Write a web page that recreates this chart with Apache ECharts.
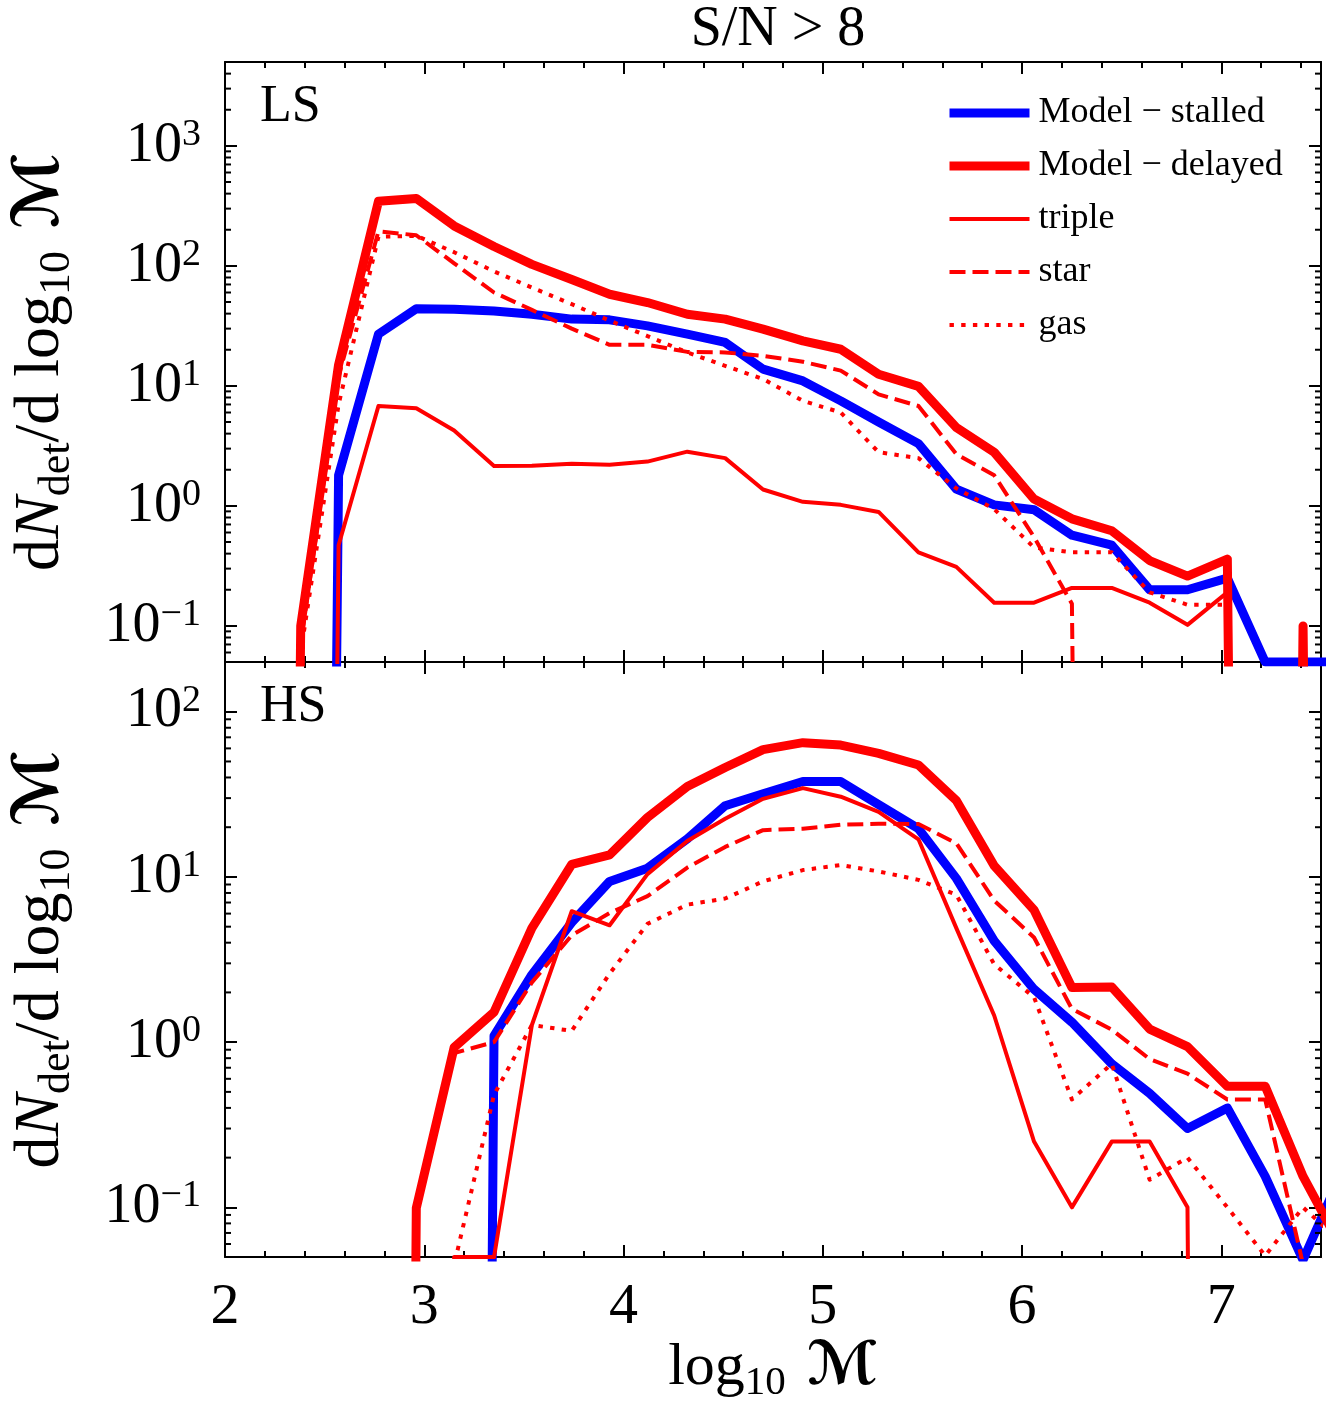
<!DOCTYPE html>
<html>
<head>
<meta charset="utf-8">
<script src="https://cdn.jsdelivr.net/npm/echarts@6/dist/echarts.min.js"></script>
<style>
  html, body { margin: 0; padding: 0; background: #fff; }
  #main { width: 1336px; height: 1405px; }
</style>
</head>
<body>
<div id="main"></div>
<script>
// bin centres of log10 M, shared by both panels
var logM = [2.19, 2.38, 2.57, 2.77, 2.96, 3.15, 3.35, 3.54, 3.74, 3.93, 4.12, 4.32, 4.51, 4.70, 4.90,
            5.09, 5.28, 5.48, 5.67, 5.86, 6.06, 6.25, 6.45, 6.64, 6.83, 7.03, 7.22, 7.41, 7.61];

// LS panel (dN_det / dlog10 M), 0 = empty bin
var stalledLS = [0, 0, 1.8, 27, 44, 43.5, 42, 39.5, 36, 35.5, 31.6, 27, 23, 13.8, 11, 7.5, 5.0, 3.3, 1.38,
                 1.02, 0.93, 0.57, 0.47, 0.2, 0.2, 0.25, 0.05, 0.05, 0.05];
var delayedLS = [0, 0.1, 15, 345, 365, 215, 145, 103, 77, 58, 49.5, 39.5, 36, 29.7, 23.7, 20.2, 12.5, 9.9,
                 4.5, 2.8, 1.14, 0.78, 0.62, 0.35, 0.26, 0.36, 0, 0.1, 0];
var tripleLS  = [0, 0, 0.47, 6.8, 6.5, 4.25, 2.15, 2.16, 2.24, 2.2, 2.34, 2.83, 2.5, 1.37, 1.08, 1.02, 0.89,
                 0.41, 0.31, 0.156, 0.156, 0.207, 0.207, 0.156, 0.102, 0.19, 0, 0, 0];
var starLS    = [0, 0.07, 12, 194, 180, 105, 60, 43, 30, 22, 22, 19.2, 19, 17.8, 15.9, 13.4, 8.5, 6.8, 2.7,
                 1.8, 0.55, 0.153, 0, 0, 0, 0, 0, 0, 0];
var gasLS     = [0, 0.06, 7, 175, 178, 130, 90, 66, 48, 35, 26, 19, 14.7, 11.4, 7.5, 6.0, 2.8, 2.5, 1.4,
                 0.94, 0.45, 0.41, 0.41, 0.19, 0.15, 0.15, 0, 0, 0];

// HS panel
var stalledHS = [0, 0, 0, 0, 0, 0, 1.09, 2.56, 5.3, 9.4, 11.3, 17, 27, 31.9, 37.8, 37.8, 27.4, 19.6, 9.8,
                 4.1, 2.09, 1.32, 0.74, 0.49, 0.30, 0.40, 0.154, 0.048, 0.17];
var delayedHS = [0, 0, 0, 0, 0.099, 0.93, 1.52, 4.9, 11.9, 13.6, 22.9, 35.3, 46, 59, 65, 62.8, 56, 47.6, 29,
                 11.7, 6.3, 2.14, 2.16, 1.2, 0.94, 0.54, 0.54, 0.154, 0.055];
var tripleHS  = [0, 0, 0, 0, 0, 0.05, 0.05, 1.27, 6.2, 5.1, 10.4, 16.5, 22.5, 29.7, 34.5, 30.6, 24.8, 16.9,
                 4.9, 1.45, 0.25, 0.1, 0.25, 0.25, 0.1, 0, 0, 0, 0];
var starHS    = [0, 0, 0, 0, 0.1, 0.86, 1.0, 2.3, 4.43, 6.05, 7.65, 11.4, 15.2, 19.2, 19.6, 20.7, 21, 20.9,
                 16, 7.2, 4.3, 1.59, 1.19, 0.79, 0.645, 0.45, 0.45, 0.045, 0.05];
var gasHS     = [0, 0, 0, 0, 0, 0.045, 0.48, 1.27, 1.17, 2.6, 5.2, 6.8, 7.4, 9.4, 11.0, 11.8, 10.8, 9.6,
                 7.8, 2.96, 1.87, 0.45, 0.74, 0.147, 0.2, 0.1, 0.051, 0.1, 0.06];

var names = ['Model \u2212 stalled', 'Model \u2212 delayed', 'triple', 'star', 'gas'];

// log-axis minor ticks: mantissas per decade
var minorMant = [2, 3, 4, 5, 6, 7, 8, 9];
var decadesLS = [0.01, 0.1, 1, 10, 100, 1000];
var decadesHS = [0.01, 0.1, 1, 10, 100];

var SERIF = "'Liberation Serif', 'DejaVu Serif', serif";
var SCRIPT = "'DejaVu Serif', 'DejaVu Sans', serif";

var myChart = echarts.init(document.getElementById('main'));

function minorVals(decades, lo, hi) {
    var out = [];
    decades.forEach(function (d) {
        minorMant.forEach(function (m) {
            var v = m * d;
            if (v > lo * 1.0001 && v < hi * 0.9999) out.push(v);
        });
    });
    return out;
}

function pairs(ys) {
    // empty bins go far below the axis so the line drops straight down
    return logM.map(function (x, i) { return [x, ys[i] > 0 ? ys[i] : 1e-30]; });
}

var styles = [
    { color: '#0000ff', width: 9, type: 'solid' },
    { color: '#ff0000', width: 9, type: 'solid' },
    { color: '#ff0000', width: 4, type: 'solid' },
    { color: '#ff0000', width: 4, type: [16, 7] },
    { color: '#ff0000', width: 4, type: [4.4, 7.3] }
];

function lineSeries(idx, xIdx, yIdx, ys) {
    var s = styles[idx];
    return {
        name: names[idx],
        type: 'line',
        xAxisIndex: xIdx,
        yAxisIndex: yIdx,
        data: pairs(ys),
        symbol: 'none',
        clip: true,
        lineStyle: { color: s.color, width: s.width, type: s.type, join: 'round', cap: 'butt' },
        itemStyle: { color: s.color },
        z: 3 + idx
    };
}

function minorTickSeries(xIdx, yIdx, vals) {
    return {
        type: 'custom',
        xAxisIndex: xIdx,
        yAxisIndex: yIdx,
        silent: true,
        clip: false,
        z: 20,
        data: vals.map(function (v) { return [2, v]; }),
        renderItem: function (params, api) {
            var cs = params.coordSys;
            var y = api.coord([2, api.value(1)])[1];
            return {
                type: 'group',
                children: [
                    { type: 'line', shape: { x1: cs.x, y1: y, x2: cs.x + 6, y2: y },
                      style: { stroke: '#000', lineWidth: 2 } },
                    { type: 'line', shape: { x1: cs.x + cs.width, y1: y, x2: cs.x + cs.width - 6, y2: y },
                      style: { stroke: '#000', lineWidth: 2 } }
                ]
            };
        }
    };
}

var axisLineStyle = { show: true, onZero: false, lineStyle: { color: '#000', width: 2 } };

function nameRich(size) {
    return {
        r: { fontFamily: SERIF, fontSize: size, lineHeight: size + 12, color: '#000' },
        i: { fontFamily: SERIF, fontStyle: 'italic', fontSize: size, lineHeight: size + 12, color: '#000' },
        s: { fontFamily: SERIF, fontSize: Math.round(size * 0.69), lineHeight: Math.round(size * 0.72),
             verticalAlign: 'bottom', color: '#000' },
        m: { fontFamily: SCRIPT, fontWeight: 'bold', fontSize: size, lineHeight: size + 12, color: '#000' }
    };
}

// x axes: per grid bottom-major, bottom-minor, top-major, top-minor
function xAxes(gridIndex, withLabels) {
    var base = { type: 'value', gridIndex: gridIndex, min: 2, max: 7.5, splitLine: { show: false } };
    return [
        Object.assign({}, base, {
            position: 'bottom', interval: 1,
            axisLine: axisLineStyle,
            axisTick: { inside: true, length: 12, lineStyle: { color: '#000', width: 2 } },
            axisLabel: {
                show: withLabels, margin: 22, showMaxLabel: false,
                fontFamily: SERIF, fontSize: 58, color: '#000'
            },
            name: withLabels ? '{r|log}{s|10}{m| \u2133}' : '',
            nameLocation: 'middle', nameGap: 70,
            nameTextStyle: { color: '#000', rich: nameRich(60) }
        }),
        Object.assign({}, base, {
            position: 'bottom', interval: 0.2,
            axisLine: { show: false },
            axisTick: { inside: true, length: 6, lineStyle: { color: '#000', width: 2 } },
            axisLabel: { show: false }
        }),
        Object.assign({}, base, {
            position: 'top', interval: 1,
            axisLine: axisLineStyle,
            axisTick: { inside: true, length: 12, lineStyle: { color: '#000', width: 2 } },
            axisLabel: { show: false }
        }),
        Object.assign({}, base, {
            position: 'top', interval: 0.2,
            axisLine: { show: false },
            axisTick: { inside: true, length: 6, lineStyle: { color: '#000', width: 2 } },
            axisLabel: { show: false }
        })
    ];
}

function powLabel(v) {
    var l = Math.log10(v);
    var e = Math.round(l);
    if (Math.abs(l - e) > 1e-6) return '';
    return '{b|10}{e|' + (e < 0 ? '\u2212' + (-e) : e) + '}';
}

function yAxes(gridIndex, min, max) {
    var base = { type: 'log', logBase: 10, gridIndex: gridIndex, min: min, max: max, splitLine: { show: false } };
    return [
        Object.assign({}, base, {
            position: 'left',
            axisLine: axisLineStyle,
            axisTick: { inside: true, length: 12, lineStyle: { color: '#000', width: 2 } },
            axisLabel: {
                margin: 24, formatter: powLabel,
                rich: {
                    b: { fontFamily: SERIF, fontSize: 56, lineHeight: 60, color: '#000' },
                    e: { fontFamily: SERIF, fontSize: 38, lineHeight: 38, verticalAlign: 'top', color: '#000' }
                }
            },
            name: '{r|d}{i|N}{s|det}{r|/d log}{s|10}{m| \u2133}',
            nameLocation: 'middle', nameGap: 146, nameRotate: 90,
            nameTextStyle: { color: '#000', rich: nameRich(64) }
        }),
        Object.assign({}, base, {
            position: 'right',
            axisLine: axisLineStyle,
            axisTick: { inside: true, length: 12, lineStyle: { color: '#000', width: 2 } },
            axisLabel: { show: false }
        })
    ];
}

var series = [];
[stalledLS, delayedLS, tripleLS, starLS, gasLS].forEach(function (ys, i) {
    series.push(lineSeries(i, 0, 0, ys));
});
[stalledHS, delayedHS, tripleHS, starHS, gasHS].forEach(function (ys, i) {
    series.push(lineSeries(i, 4, 2, ys));
});
series.push(minorTickSeries(0, 0, minorVals(decadesLS, 0.05, 5000)));
series.push(minorTickSeries(4, 2, minorVals(decadesHS, 0.05, 200)));

var option = {
    animation: false,
    backgroundColor: '#fff',
    title: [
        { text: 'S/N > 8', left: 773, top: -3, textAlign: 'center',
          textStyle: { fontFamily: SERIF, fontSize: 56, fontWeight: 'normal', color: '#000' } },
        { text: 'LS', left: 255, top: 76,
          textStyle: { fontFamily: SERIF, fontSize: 52, fontWeight: 'normal', color: '#000' } },
        { text: 'HS', left: 255, top: 676,
          textStyle: { fontFamily: SERIF, fontSize: 52, fontWeight: 'normal', color: '#000' } }
    ],
    legend: {
        data: names.map(function (n, i) {
            return {
                name: n,
                lineStyle: { width: styles[i].width, color: styles[i].color, type: styles[i].type, cap: 'butt' },
                itemStyle: { opacity: 0 }
            };
        }),
        orient: 'vertical',
        left: 940,
        top: 88,
        itemWidth: 80,
        itemHeight: 14,
        itemGap: 13,
        selectedMode: false,
        textStyle: { fontFamily: SERIF, fontSize: 36, lineHeight: 40, color: '#000', padding: [0, 0, 0, 4] }
    },
    grid: [
        { left: 225, top: 62, width: 1096, height: 600 },
        { left: 225, top: 662, width: 1096, height: 600 }
    ],
    xAxis: xAxes(0, false).concat(xAxes(1, true)),
    yAxis: yAxes(0, 0.05, 5000).concat(yAxes(1, 0.05, 200)),
    series: series
};

myChart.setOption(option);
</script>
</body>
</html>
